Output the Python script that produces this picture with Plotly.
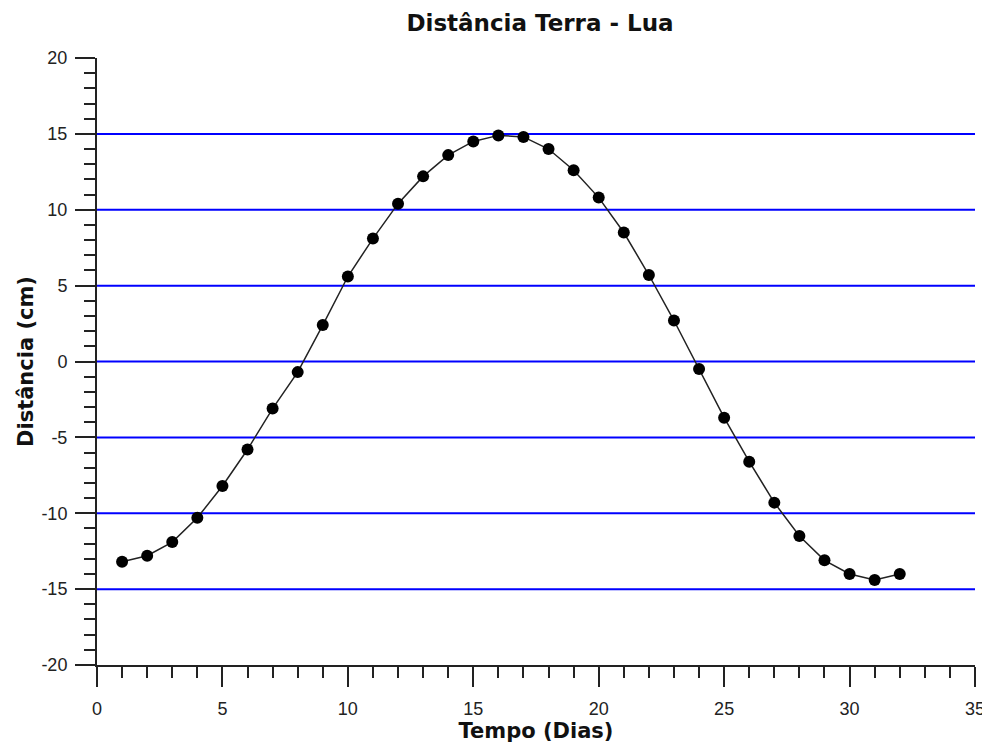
import plotly.graph_objects as go

# Earth-Moon distance readings, one per day
dias = list(range(1, 33))
distancia = [
    -13.2, -12.8, -11.9, -10.3, -8.2, -5.8, -3.1, -0.7,
    2.4, 5.6, 8.1, 10.4, 12.2, 13.6, 14.5, 14.9,
    14.8, 14.0, 12.6, 10.8, 8.5, 5.7, 2.7, -0.5,
    -3.7, -6.6, -9.3, -11.5, -13.1, -14.0, -14.4, -14.0,
]
x_ticks = [0, 5, 10, 15, 20, 25, 30, 35]
x_labels = ["0", "5", "10", "15", "20", "25", "30", "35"]
y_ticks = [-20, -15, -10, -5, 0, 5, 10, 15, 20]
y_labels = ["-20", "-15", "-10", "-5", "0", "5", "10", "15", "20"]
linhas_grade = [-15, -10, -5, 0, 5, 10, 15]

TITLE_FONT = "DejaVu Sans"
TICK_FONT = "Liberation Sans"
AXIS = "#222222"

fig = go.Figure()
fig.add_trace(go.Scatter(
    x=dias, y=distancia, mode="lines+markers",
    line=dict(color="#222222", width=1.5),
    marker=dict(color="black", size=12),
    showlegend=False,
))

# horizontal blue reference lines
for v in linhas_grade:
    fig.add_shape(type="line", xref="paper", x0=0, x1=1, yref="y", y0=v, y1=v,
                  line=dict(color="#0000ff", width=2), layer="below")

axis_common = dict(
    showline=True, linecolor=AXIS, linewidth=2,
    ticks="outside", ticklen=20, tickwidth=2, tickcolor=AXIS,
    showgrid=False, zeroline=False, tickmode="array",
    ticklabeloverflow="allow", automargin=False,
    tickfont=dict(family=TICK_FONT, size=18, color="#222222"),
    minor=dict(ticks="outside", ticklen=11, tickwidth=2, tickcolor=AXIS,
               tickmode="linear", tick0=0, dtick=1, showgrid=False),
)

fig.update_layout(
    width=982, height=746,
    margin=dict(l=97, r=7, t=58, b=81),
    paper_bgcolor="white", plot_bgcolor="white",
    title=dict(text="<b>Distância Terra - Lua</b>", xref="container", x=540 / 982,
               xanchor="center", yref="container", y=1 - 23 / 746, yanchor="middle",
               font=dict(family=TITLE_FONT, size=23, color="#111111")),
    xaxis=dict(range=[0, 35], tickvals=x_ticks, ticktext=x_labels, ticklabelstandoff=6,
               title=dict(text="<b>Tempo (Dias)</b>", standoff=2,
                          font=dict(family=TITLE_FONT, size=21, color="#111111")),
               **axis_common),
    yaxis=dict(range=[-20, 20], tickvals=y_ticks, ticktext=y_labels, ticklabelstandoff=4,
               title=dict(text="<b>Distância (cm)</b>", standoff=2,
                          font=dict(family=TITLE_FONT, size=21, color="#111111")),
               **axis_common),
)

fig.write_html("out.html")
